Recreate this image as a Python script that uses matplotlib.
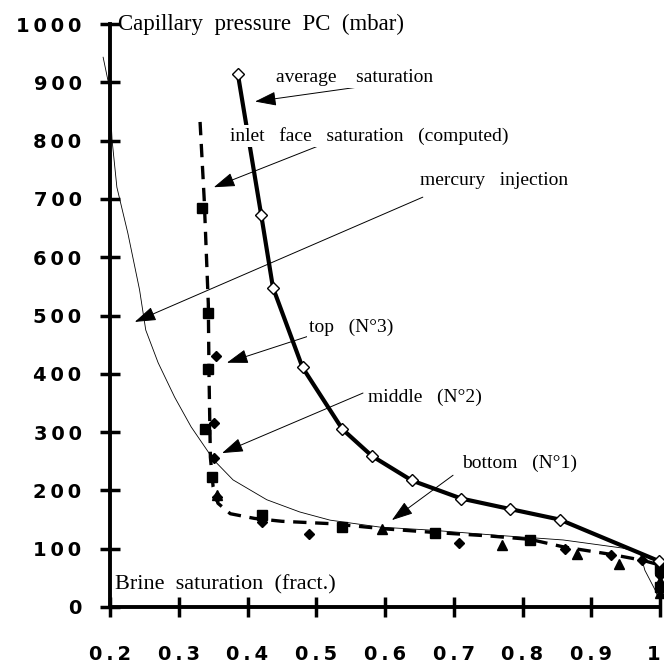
import matplotlib
matplotlib.use("Agg")
import matplotlib.pyplot as plt

# average saturation (open diamonds, thick solid line)
avg_sw = [0.386, 0.420, 0.437, 0.480, 0.538, 0.581, 0.639, 0.711, 0.782, 0.854, 0.998]
avg_pc = [914, 672, 548, 411, 305, 259, 217, 186, 168, 150, 79]

# inlet face saturation, computed (dashed line)
inlet_sw = [0.331, 0.337, 0.343, 0.344, 0.346, 0.350, 0.357, 0.375, 0.410, 0.450,
            0.520, 0.600, 0.670, 0.750, 0.811, 0.860, 0.930, 0.975, 1.000]
inlet_pc = [832, 700, 520, 400, 257, 206, 178, 160, 152, 147,
            143, 134, 128, 122, 116, 103, 90, 80, 72]

# mercury injection (thin line)
hg_sw = [0.190, 0.199, 0.203, 0.210, 0.226, 0.243, 0.252, 0.270, 0.294, 0.318, 0.351,
         0.379, 0.428, 0.476, 0.520, 0.593, 0.665, 0.763, 0.859, 0.946, 0.971,
         0.978, 0.993, 0.997]
hg_pc = [943, 892, 801, 720, 641, 544, 475, 419, 360, 309, 252,
         218, 184, 163, 149, 137, 132, 123, 115, 101, 93,
         63, 29, 17]

# section measurements
top_sw = [0.354, 0.351, 0.351, 0.356, 0.421, 0.489, 0.707, 0.862, 0.929, 0.974, 1.0]
top_pc = [430, 316, 255, 189, 146, 125, 109, 99, 89, 81, 55]

mid_sw = [0.334, 0.342, 0.342, 0.338, 0.348, 0.421, 0.537, 0.673, 0.811, 1.0, 1.0]
mid_pc = [684, 504, 408, 305, 223, 158, 137, 127, 115, 65, 35]

bot_sw = [0.356, 0.596, 0.770, 0.879, 0.940, 1.0, 1.0]
bot_pc = [192, 134, 106, 91, 73, 45, 24]

x_ticks = [0.2, 0.3, 0.4, 0.5, 0.6, 0.7, 0.8, 0.9, 1.0]
x_labels = ["0.2", "0.3", "0.4", "0.5", "0.6", "0.7", "0.8", "0.9", "1"]
y_ticks = [0, 100, 200, 300, 400, 500, 600, 700, 800, 900, 1000]

TS = "\u2009"
SERIF = ["Liberation Serif", "DejaVu Serif"]


def espaco(txt):
    return TS.join(txt)


def main():
    fig = plt.figure(figsize=(6.64, 6.67), dpi=100)
    ax = fig.add_axes([110 / 664, 60 / 667, 550 / 664, 583 / 667])

    ax.plot(hg_sw, hg_pc, color="black", lw=0.6, clip_on=False, zorder=2)
    ax.plot(inlet_sw, inlet_pc, color="black", lw=2.4, dashes=(4, 2.6),
            clip_on=False, zorder=3)
    ax.plot(avg_sw, avg_pc, color="black", lw=3, clip_on=False, zorder=3)
    ax.plot(avg_sw, avg_pc, ls="none", marker="D", ms=6, mfc="white",
            mec="black", mew=1, clip_on=False, zorder=5)

    ax.plot(top_sw, top_pc, ls="none", marker="D", ms=5.5, color="black",
            clip_on=False, zorder=4)
    ax.plot(mid_sw, mid_pc, ls="none", marker="s", ms=6.5, color="black",
            clip_on=False, zorder=4)
    ax.plot(bot_sw, bot_pc, ls="none", marker="^", ms=7.5, color="black",
            clip_on=False, zorder=4)

    # annotations: (text, text pos, arrow tail, arrow tip)
    notas = [
        ("average    saturation", (0.441, 909), (0.574, 894), (0.411, 867)),
        ("inlet   face   saturation   (computed)", (0.375, 808), (0.510, 794), (0.351, 720)),
        ("mercury   injection", (0.651, 732), (0.655, 703), (0.236, 489)),
        ("top   (N°3)", (0.489, 479), (0.495, 467), (0.370, 419)),
        ("middle   (N°2)", (0.575, 360), (0.568, 367), (0.363, 264)),
        ("bottom   (N°1)", (0.712, 247), (0.699, 226), (0.610, 149)),
    ]
    for texto, pos, cauda, ponta in notas:
        ax.annotate("", xy=ponta, xytext=cauda,
                    arrowprops=dict(arrowstyle="-|>,head_length=0.6,head_width=0.2",
                                    mutation_scale=22, lw=0.7, color="black",
                                    shrinkA=0, shrinkB=0),
                    zorder=6)
        ax.text(pos[0], pos[1], texto, family=SERIF, fontsize=14,
                ha="left", va="center", zorder=7,
                bbox=dict(facecolor="white", edgecolor="none", pad=1.5))

    ax.text(0.212, 1000, "Capillary  pressure  PC  (mbar)", family=SERIF,
            fontsize=16.5, ha="left", va="center", zorder=7)
    ax.text(0.207, 38, "Brine  saturation  (fract.)", family=SERIF,
            fontsize=16, ha="left", va="center", zorder=7)

    ax.set_xlim(0.2, 1.0)
    ax.set_ylim(0, 1000)
    for lado in ["top", "right"]:
        ax.spines[lado].set_visible(False)
    for lado in ["left", "bottom"]:
        ax.spines[lado].set_linewidth(2.8)

    ax.set_xticks(x_ticks)
    ax.set_xticklabels([espaco(t) for t in x_labels])
    ax.set_yticks(y_ticks)
    ax.set_yticklabels([espaco(str(v)) for v in y_ticks])
    ax.tick_params(axis="both", direction="inout", length=15, width=2.5)
    ax.tick_params(axis="y", pad=13)
    ax.tick_params(axis="x", pad=20)
    for lbl in ax.get_xticklabels() + ax.get_yticklabels():
        lbl.set_fontweight("bold")
        lbl.set_fontsize(14)
        lbl.set_family("DejaVu Sans")
    # the last x label sits at the figure edge
    ax.get_xticklabels()[-1].set_horizontalalignment("right")
    ax.get_xticklabels()[-1].set_x(1.0)

    fig.savefig("out.png", dpi=100)
    plt.close(fig)


if __name__ == "__main__":
    main()
